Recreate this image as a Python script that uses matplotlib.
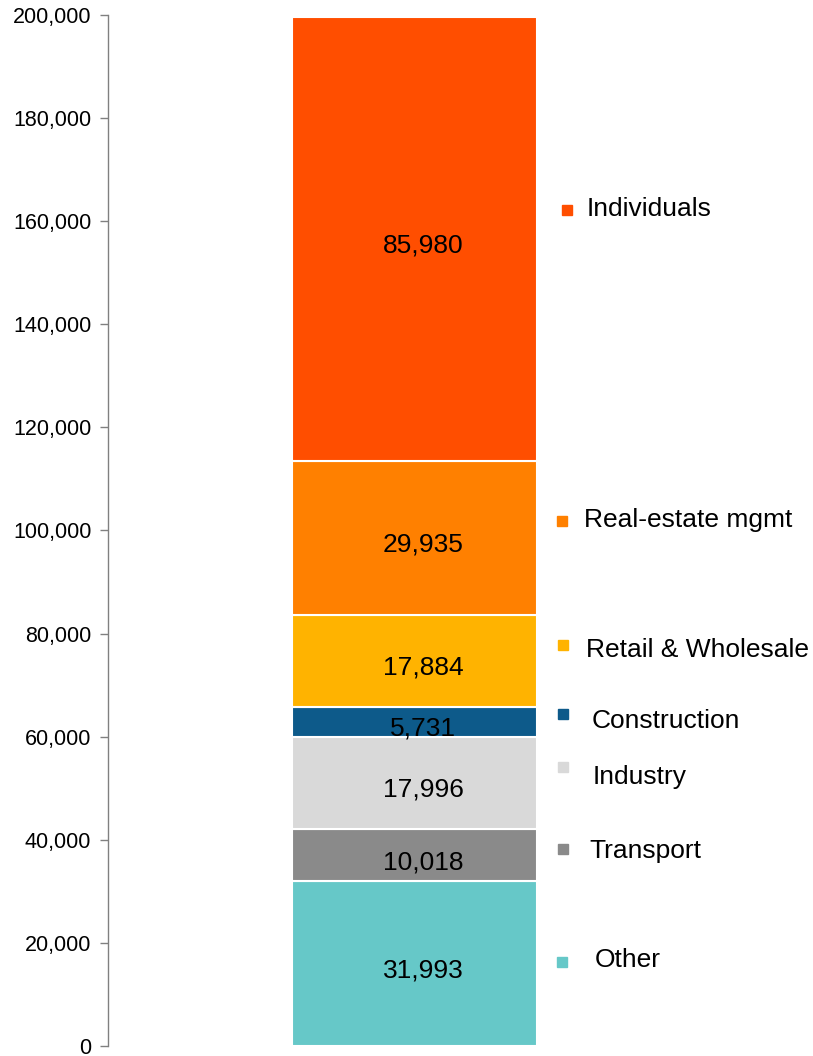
import numpy as np
import matplotlib
matplotlib.use("Agg")
import matplotlib.pyplot as plt
from matplotlib.ticker import FuncFormatter, MultipleLocator

plt.rcParams['font.family'] = ['Liberation Sans', 'DejaVu Sans']

# segments, bottom to top
sectors = ['Other', 'Transport', 'Industry', 'Construction',
           'Retail & Wholesale', 'Real-estate mgmt', 'Individuals']
values = [31993, 10018, 17996, 5731, 17884, 29935, 85980]
colors = ['#66C8C8', '#8A8A8A', '#D9D9D9', '#0D5A8A',
          '#FFB300', '#FF8000', '#FF4E00']

# legend layout (pixels in the 813x1056 figure, from top-left)
marker_x = [562, 563, 563, 563, 563, 562, 567]
marker_y = [962, 849, 767, 714, 645, 521, 210]
text_x = [595, 589, 593, 592, 586, 584, 587]
text_y = [960, 851, 777, 721, 650, 520, 209]

W, H = 813, 1056
fig = plt.figure(figsize=(W / 100, H / 100), dpi=100)
ax = fig.add_axes([108 / W, 10 / H, 1 - 108 / W, (1046 - 15) / H])

bottoms = np.concatenate([[0], np.cumsum(values)[:-1]])
bars = ax.bar(0.435, values, width=0.348, bottom=bottoms, color=colors,
              edgecolor='white', linewidth=1.5)

# value labels sit a little right of and below each segment's centre
for b, v, bot in zip(bars, values, bottoms):
    ax.annotate(f'{v:,}', (0.435, bot + v / 2), xytext=(6, -5),
                textcoords='offset points', ha='center', va='center',
                fontsize=19, color='black')

ax.set_xlim(0, 1)
ax.set_ylim(0, 200000)
ax.yaxis.set_major_locator(MultipleLocator(20000))
ax.yaxis.set_major_formatter(FuncFormatter(lambda v, p: f'{int(v):,}'))
ax.tick_params(axis='y', length=5.5, width=1, color='#808080',
               labelsize=15.5, pad=6.5)
ax.set_xticks([])
for side in ['top', 'right', 'bottom']:
    ax.spines[side].set_visible(False)
ax.spines['left'].set_color('#808080')
ax.spines['left'].set_linewidth(1)

for name, c, mx, my, tx, ty in zip(sectors, colors, marker_x, marker_y, text_x, text_y):
    fig.lines.append(plt.Line2D([mx / W], [1 - my / H], marker='s', markersize=6.5,
                                color=c, linestyle='none', transform=fig.transFigure))
    fig.text(tx / W, 1 - ty / H, name, ha='left', va='center',
             fontsize=19, color='black')

fig.savefig('out.png', dpi=100)
